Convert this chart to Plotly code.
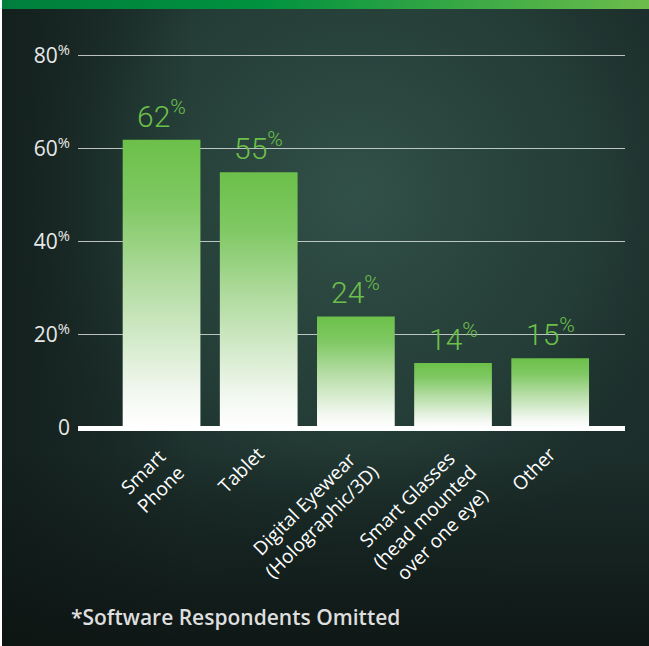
import base64
import plotly.graph_objects as go

# Survey data
categories = [
    "Smart<br>Phone",
    "Tablet",
    "Digital Eyewear<br>(Holographic/3D)",
    "Smart Glasses<br>(head mounted<br>over one eye)",
    "Other",
]
values = [62, 55, 24, 14, 15]
y_ticks = [0, 20, 40, 60, 80]
y_tick_text = ["0", "20<sup>%</sup>", "40<sup>%</sup>", "60<sup>%</sup>", "80<sup>%</sup>"]
footnote = "*Software Respondents Omitted"

GREEN = "#6cc04a"
W, H = 649, 646
ML, MR, MT, MB = 78, 24, 49, 218
Y_MAX = 81.5

# Dark teal backdrop with a green accent strip along the top
svg = f"""<svg xmlns='http://www.w3.org/2000/svg' width='{W}' height='{H}' viewBox='0 0 {W} {H}'>
<defs>
<radialGradient id='glow' cx='0.55' cy='0.3' r='0.62'>
  <stop offset='0' stop-color='#325149' stop-opacity='1'/>
  <stop offset='0.6' stop-color='#27423b' stop-opacity='0.7'/>
  <stop offset='1' stop-color='#1a2a27' stop-opacity='0'/>
</radialGradient>
<linearGradient id='bottom' x1='0' y1='0' x2='0' y2='1'>
  <stop offset='0' stop-color='#0c1311' stop-opacity='0'/>
  <stop offset='0.7' stop-color='#0c1311' stop-opacity='0'/>
  <stop offset='1' stop-color='#0c1311' stop-opacity='0.85'/>
</linearGradient>
<linearGradient id='left' x1='0' y1='0' x2='1' y2='0'>
  <stop offset='0' stop-color='#0d1513' stop-opacity='0.55'/>
  <stop offset='0.3' stop-color='#0d1513' stop-opacity='0'/>
</linearGradient>
<linearGradient id='strip' x1='0' y1='0' x2='1' y2='0'>
  <stop offset='0' stop-color='#007f3c'/>
  <stop offset='0.4' stop-color='#00923f'/>
  <stop offset='1' stop-color='#6cbd4b'/>
</linearGradient>
</defs>
<rect width='{W}' height='{H}' fill='#1c2e2b'/>
<rect width='{W}' height='{H}' fill='url(#glow)'/>
<rect width='{W}' height='{H}' fill='url(#left)'/>
<rect width='{W}' height='{H}' fill='url(#bottom)'/>
<rect x='0' y='0' width='{W}' height='9' fill='url(#strip)'/>
<rect x='0' y='0' width='2' height='{H}' fill='#ffffff'/>
</svg>"""
bg_uri = "data:image/svg+xml;base64," + base64.b64encode(svg.encode()).decode()

fig = go.Figure()

# Bars: filled rectangles fading from green at the top to white at the base
half = 0.4
bar_scale = [[0, "#ffffff"], [0.12, "#f3f8f1"], [0.5, "#b3dca2"], [0.78, "#7fc862"], [1, GREEN]]
for i, v in enumerate(values):
    fig.add_trace(go.Scatter(
        x=[i - half, i + half, i + half, i - half, i - half],
        y=[0, 0, v, v, 0],
        mode="lines",
        fill="toself",
        fillgradient=dict(type="vertical", colorscale=bar_scale),
        line=dict(width=0),
        hoverinfo="skip",
        showlegend=False,
    ))
    fig.add_annotation(
        x=i, y=v, xref="x", yref="y",
        text=f"{v}<sup>%</sup>",
        showarrow=False, yanchor="bottom", yshift=4,
        font=dict(family="Roboto", size=30, color=GREEN, weight=300),
    )

# Category labels: rotated, centre-aligned blocks whose upper end sits under each bar
LABEL_SIZE = 19
for i, name in enumerate(categories):
    n_lines = name.count("<br>") + 1
    box_h = n_lines * 1.3 * LABEL_SIZE + 2
    fig.add_annotation(
        x=i, y=0, xref="x", yref="y",
        text=name, showarrow=False, textangle=-45, align="center",
        xanchor="right", yanchor="top",
        xshift=0.7071 * box_h - 5, yshift=-11,
        font=dict(family="Open Sans", size=LABEL_SIZE, color="#ffffff"),
    )

plot_w = W - ML - MR
plot_h = H - MT - MB
fig.add_annotation(
    xref="paper", yref="paper",
    x=(69 - ML) / plot_w, y=-(617 - (H - MB)) / plot_h,
    text=footnote, showarrow=False,
    xanchor="left", yanchor="middle",
    font=dict(family="Open Sans", size=21, color="#dedede", weight=600),
)

fig.update_layout(
    width=W, height=H,
    margin=dict(l=ML, r=MR, t=MT, b=MB),
    paper_bgcolor="rgba(0,0,0,0)",
    plot_bgcolor="rgba(0,0,0,0)",
    images=[dict(source=bg_uri, xref="paper", yref="paper",
                 x=-ML / plot_w, y=1 + MT / plot_h,
                 sizex=W / plot_w, sizey=H / plot_h,
                 xanchor="left", yanchor="top",
                 sizing="stretch", layer="below")],
    xaxis=dict(
        range=[-0.86, 4.77],
        showticklabels=False,
        showgrid=False, zeroline=False, showline=False, ticks="",
        fixedrange=True,
    ),
    yaxis=dict(
        range=[0, Y_MAX],
        tickvals=y_ticks, ticktext=y_tick_text,
        showgrid=True, gridcolor="rgba(215,220,218,0.85)", gridwidth=1,
        zeroline=True, zerolinecolor="#ffffff", zerolinewidth=5,
        showline=False, ticks="", ticklabelstandoff=7,
        tickfont=dict(family="Open Sans", size=21, color="#e8e8e8"),
        fixedrange=True,
    ),
)

fig.write_html("out.html")
